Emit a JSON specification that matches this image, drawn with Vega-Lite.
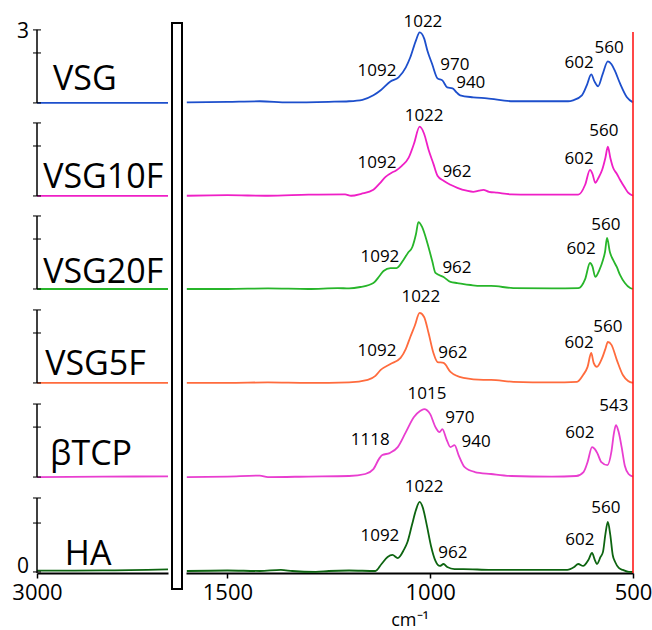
{
  "$schema": "https://vega.github.io/schema/vega-lite/v6.json",
  "padding": {"left": 11, "top": 13, "right": 0, "bottom": 4},
  "config": {"view": {"stroke": null}, "axis": {"grid": false}, "concat": {"spacing": 4}},
  "datasets": {
    "specL": [
      {"s": "VSG", "wn": 3000, "a": 2.607}, {"s": "VSG", "wn": 2840, "a": 2.607}, {"s": "VSG", "wn": 2680, "a": 2.607},
      {"s": "VSG10F", "wn": 3000, "a": 2.091}, {"s": "VSG10F", "wn": 2840, "a": 2.091}, {"s": "VSG10F", "wn": 2680, "a": 2.091},
      {"s": "VSG20F", "wn": 3000, "a": 1.575}, {"s": "VSG20F", "wn": 2840, "a": 1.575}, {"s": "VSG20F", "wn": 2680, "a": 1.575},
      {"s": "VSG5F", "wn": 3000, "a": 1.054}, {"s": "VSG5F", "wn": 2840, "a": 1.054}, {"s": "VSG5F", "wn": 2680, "a": 1.054},
      {"s": "βTCP", "wn": 3000, "a": 0.532}, {"s": "βTCP", "wn": 2840, "a": 0.534}, {"s": "βTCP", "wn": 2680, "a": 0.536},
      {"s": "HA", "wn": 3000, "a": 0.013}, {"s": "HA", "wn": 2840, "a": 0.014}, {"s": "HA", "wn": 2680, "a": 0.02}
    ],
    "specR": [
      {"s": "VSG", "wn": 1600, "a": 2.610}, {"s": "VSG", "wn": 1500, "a": 2.613}, {"s": "VSG", "wn": 1420, "a": 2.616}, {"s": "VSG", "wn": 1350, "a": 2.610},
      {"s": "VSG", "wn": 1250, "a": 2.613}, {"s": "VSG", "wn": 1200, "a": 2.616}, {"s": "VSG", "wn": 1167, "a": 2.624}, {"s": "VSG", "wn": 1140, "a": 2.649},
      {"s": "VSG", "wn": 1122, "a": 2.677}, {"s": "VSG", "wn": 1098, "a": 2.726}, {"s": "VSG", "wn": 1078, "a": 2.749}, {"s": "VSG", "wn": 1060, "a": 2.804},
      {"s": "VSG", "wn": 1049, "a": 2.860}, {"s": "VSG", "wn": 1035, "a": 2.954}, {"s": "VSG", "wn": 1026, "a": 2.998}, {"s": "VSG", "wn": 1015, "a": 2.965},
      {"s": "VSG", "wn": 1007, "a": 2.898}, {"s": "VSG", "wn": 995, "a": 2.821}, {"s": "VSG", "wn": 982, "a": 2.743}, {"s": "VSG", "wn": 970, "a": 2.732},
      {"s": "VSG", "wn": 958, "a": 2.693}, {"s": "VSG", "wn": 945, "a": 2.688}, {"s": "VSG", "wn": 935, "a": 2.665}, {"s": "VSG", "wn": 926, "a": 2.649},
      {"s": "VSG", "wn": 894, "a": 2.638}, {"s": "VSG", "wn": 860, "a": 2.632}, {"s": "VSG", "wn": 795, "a": 2.616}, {"s": "VSG", "wn": 720, "a": 2.616},
      {"s": "VSG", "wn": 660, "a": 2.616}, {"s": "VSG", "wn": 648, "a": 2.621}, {"s": "VSG", "wn": 626, "a": 2.649}, {"s": "VSG", "wn": 613, "a": 2.710},
      {"s": "VSG", "wn": 603, "a": 2.765}, {"s": "VSG", "wn": 595, "a": 2.726}, {"s": "VSG", "wn": 586, "a": 2.699}, {"s": "VSG", "wn": 575, "a": 2.765},
      {"s": "VSG", "wn": 562, "a": 2.837}, {"s": "VSG", "wn": 553, "a": 2.821}, {"s": "VSG", "wn": 545, "a": 2.787}, {"s": "VSG", "wn": 532, "a": 2.715},
      {"s": "VSG", "wn": 515, "a": 2.638}, {"s": "VSG", "wn": 500, "a": 2.610},

      {"s": "VSG10F", "wn": 1600, "a": 2.092}, {"s": "VSG10F", "wn": 1500, "a": 2.095}, {"s": "VSG10F", "wn": 1400, "a": 2.092}, {"s": "VSG10F", "wn": 1300, "a": 2.098},
      {"s": "VSG10F", "wn": 1210, "a": 2.100}, {"s": "VSG10F", "wn": 1195, "a": 2.092}, {"s": "VSG10F", "wn": 1170, "a": 2.103}, {"s": "VSG10F", "wn": 1140, "a": 2.125},
      {"s": "VSG10F", "wn": 1125, "a": 2.159}, {"s": "VSG10F", "wn": 1110, "a": 2.197}, {"s": "VSG10F", "wn": 1095, "a": 2.220}, {"s": "VSG10F", "wn": 1085, "a": 2.231},
      {"s": "VSG10F", "wn": 1070, "a": 2.258}, {"s": "VSG10F", "wn": 1053, "a": 2.303}, {"s": "VSG10F", "wn": 1040, "a": 2.380}, {"s": "VSG10F", "wn": 1026, "a": 2.475},
      {"s": "VSG10F", "wn": 1015, "a": 2.436}, {"s": "VSG10F", "wn": 1004, "a": 2.347}, {"s": "VSG10F", "wn": 992, "a": 2.269}, {"s": "VSG10F", "wn": 982, "a": 2.203},
      {"s": "VSG10F", "wn": 967, "a": 2.175}, {"s": "VSG10F", "wn": 950, "a": 2.153}, {"s": "VSG10F", "wn": 933, "a": 2.136}, {"s": "VSG10F", "wn": 910, "a": 2.120},
      {"s": "VSG10F", "wn": 894, "a": 2.114}, {"s": "VSG10F", "wn": 880, "a": 2.120}, {"s": "VSG10F", "wn": 869, "a": 2.125}, {"s": "VSG10F", "wn": 855, "a": 2.114},
      {"s": "VSG10F", "wn": 835, "a": 2.109}, {"s": "VSG10F", "wn": 800, "a": 2.100}, {"s": "VSG10F", "wn": 753, "a": 2.098}, {"s": "VSG10F", "wn": 700, "a": 2.098},
      {"s": "VSG10F", "wn": 650, "a": 2.098}, {"s": "VSG10F", "wn": 635, "a": 2.098}, {"s": "VSG10F", "wn": 618, "a": 2.153}, {"s": "VSG10F", "wn": 606, "a": 2.236},
      {"s": "VSG10F", "wn": 600, "a": 2.214}, {"s": "VSG10F", "wn": 593, "a": 2.164}, {"s": "VSG10F", "wn": 585, "a": 2.192}, {"s": "VSG10F", "wn": 576, "a": 2.236},
      {"s": "VSG10F", "wn": 568, "a": 2.303}, {"s": "VSG10F", "wn": 562, "a": 2.364}, {"s": "VSG10F", "wn": 556, "a": 2.303}, {"s": "VSG10F", "wn": 549, "a": 2.247},
      {"s": "VSG10F", "wn": 540, "a": 2.214}, {"s": "VSG10F", "wn": 532, "a": 2.181}, {"s": "VSG10F", "wn": 520, "a": 2.136}, {"s": "VSG10F", "wn": 512, "a": 2.109},
      {"s": "VSG10F", "wn": 500, "a": 2.092},

      {"s": "VSG20F", "wn": 1600, "a": 1.575}, {"s": "VSG20F", "wn": 1500, "a": 1.575}, {"s": "VSG20F", "wn": 1400, "a": 1.578}, {"s": "VSG20F", "wn": 1300, "a": 1.575},
      {"s": "VSG20F", "wn": 1228, "a": 1.580}, {"s": "VSG20F", "wn": 1200, "a": 1.578}, {"s": "VSG20F", "wn": 1172, "a": 1.586}, {"s": "VSG20F", "wn": 1140, "a": 1.608},
      {"s": "VSG20F", "wn": 1125, "a": 1.647}, {"s": "VSG20F", "wn": 1115, "a": 1.675}, {"s": "VSG20F", "wn": 1098, "a": 1.691}, {"s": "VSG20F", "wn": 1083, "a": 1.691},
      {"s": "VSG20F", "wn": 1066, "a": 1.736}, {"s": "VSG20F", "wn": 1055, "a": 1.775}, {"s": "VSG20F", "wn": 1044, "a": 1.808}, {"s": "VSG20F", "wn": 1035, "a": 1.880},
      {"s": "VSG20F", "wn": 1029, "a": 1.946}, {"s": "VSG20F", "wn": 1020, "a": 1.919}, {"s": "VSG20F", "wn": 1007, "a": 1.830}, {"s": "VSG20F", "wn": 995, "a": 1.730},
      {"s": "VSG20F", "wn": 987, "a": 1.664}, {"s": "VSG20F", "wn": 967, "a": 1.642}, {"s": "VSG20F", "wn": 950, "a": 1.614}, {"s": "VSG20F", "wn": 933, "a": 1.608},
      {"s": "VSG20F", "wn": 900, "a": 1.597}, {"s": "VSG20F", "wn": 876, "a": 1.592}, {"s": "VSG20F", "wn": 850, "a": 1.592}, {"s": "VSG20F", "wn": 795, "a": 1.580},
      {"s": "VSG20F", "wn": 700, "a": 1.578}, {"s": "VSG20F", "wn": 635, "a": 1.580}, {"s": "VSG20F", "wn": 618, "a": 1.630}, {"s": "VSG20F", "wn": 606, "a": 1.719},
      {"s": "VSG20F", "wn": 600, "a": 1.700}, {"s": "VSG20F", "wn": 593, "a": 1.642}, {"s": "VSG20F", "wn": 583, "a": 1.680}, {"s": "VSG20F", "wn": 574, "a": 1.736},
      {"s": "VSG20F", "wn": 569, "a": 1.780}, {"s": "VSG20F", "wn": 564, "a": 1.858}, {"s": "VSG20F", "wn": 557, "a": 1.780}, {"s": "VSG20F", "wn": 549, "a": 1.736},
      {"s": "VSG20F", "wn": 540, "a": 1.697}, {"s": "VSG20F", "wn": 532, "a": 1.653}, {"s": "VSG20F", "wn": 520, "a": 1.608}, {"s": "VSG20F", "wn": 507, "a": 1.580},
      {"s": "VSG20F", "wn": 500, "a": 1.575},

      {"s": "VSG5F", "wn": 1600, "a": 1.054}, {"s": "VSG5F", "wn": 1500, "a": 1.054}, {"s": "VSG5F", "wn": 1400, "a": 1.057}, {"s": "VSG5F", "wn": 1300, "a": 1.054},
      {"s": "VSG5F", "wn": 1200, "a": 1.057}, {"s": "VSG5F", "wn": 1154, "a": 1.071}, {"s": "VSG5F", "wn": 1135, "a": 1.093}, {"s": "VSG5F", "wn": 1122, "a": 1.126},
      {"s": "VSG5F", "wn": 1098, "a": 1.159}, {"s": "VSG5F", "wn": 1073, "a": 1.193}, {"s": "VSG5F", "wn": 1060, "a": 1.243}, {"s": "VSG5F", "wn": 1049, "a": 1.309},
      {"s": "VSG5F", "wn": 1038, "a": 1.371}, {"s": "VSG5F", "wn": 1026, "a": 1.442}, {"s": "VSG5F", "wn": 1015, "a": 1.420}, {"s": "VSG5F", "wn": 1004, "a": 1.331},
      {"s": "VSG5F", "wn": 992, "a": 1.220}, {"s": "VSG5F", "wn": 982, "a": 1.170}, {"s": "VSG5F", "wn": 967, "a": 1.165}, {"s": "VSG5F", "wn": 950, "a": 1.115},
      {"s": "VSG5F", "wn": 918, "a": 1.082}, {"s": "VSG5F", "wn": 869, "a": 1.071}, {"s": "VSG5F", "wn": 850, "a": 1.071}, {"s": "VSG5F", "wn": 795, "a": 1.060},
      {"s": "VSG5F", "wn": 700, "a": 1.057}, {"s": "VSG5F", "wn": 638, "a": 1.060}, {"s": "VSG5F", "wn": 623, "a": 1.098}, {"s": "VSG5F", "wn": 612, "a": 1.143},
      {"s": "VSG5F", "wn": 603, "a": 1.220}, {"s": "VSG5F", "wn": 597, "a": 1.165}, {"s": "VSG5F", "wn": 589, "a": 1.143}, {"s": "VSG5F", "wn": 577, "a": 1.187},
      {"s": "VSG5F", "wn": 568, "a": 1.243}, {"s": "VSG5F", "wn": 562, "a": 1.281}, {"s": "VSG5F", "wn": 553, "a": 1.265}, {"s": "VSG5F", "wn": 540, "a": 1.182},
      {"s": "VSG5F", "wn": 525, "a": 1.098}, {"s": "VSG5F", "wn": 512, "a": 1.065}, {"s": "VSG5F", "wn": 500, "a": 1.054},

      {"s": "βTCP", "wn": 1600, "a": 0.532}, {"s": "βTCP", "wn": 1500, "a": 0.535}, {"s": "βTCP", "wn": 1420, "a": 0.540}, {"s": "βTCP", "wn": 1400, "a": 0.532},
      {"s": "βTCP", "wn": 1300, "a": 0.535}, {"s": "βTCP", "wn": 1200, "a": 0.538}, {"s": "βTCP", "wn": 1160, "a": 0.549}, {"s": "βTCP", "wn": 1140, "a": 0.576},
      {"s": "βTCP", "wn": 1125, "a": 0.637}, {"s": "βTCP", "wn": 1118, "a": 0.654}, {"s": "βTCP", "wn": 1100, "a": 0.665}, {"s": "βTCP", "wn": 1080, "a": 0.698},
      {"s": "βTCP", "wn": 1060, "a": 0.781}, {"s": "βTCP", "wn": 1040, "a": 0.865}, {"s": "βTCP", "wn": 1025, "a": 0.898}, {"s": "βTCP", "wn": 1015, "a": 0.909},
      {"s": "βTCP", "wn": 1000, "a": 0.881}, {"s": "βTCP", "wn": 987, "a": 0.809}, {"s": "βTCP", "wn": 977, "a": 0.781}, {"s": "βTCP", "wn": 970, "a": 0.798},
      {"s": "βTCP", "wn": 960, "a": 0.743}, {"s": "βTCP", "wn": 950, "a": 0.698}, {"s": "βTCP", "wn": 940, "a": 0.709}, {"s": "βTCP", "wn": 930, "a": 0.654},
      {"s": "βTCP", "wn": 915, "a": 0.587}, {"s": "βTCP", "wn": 890, "a": 0.560}, {"s": "βTCP", "wn": 850, "a": 0.549}, {"s": "βTCP", "wn": 800, "a": 0.538},
      {"s": "βTCP", "wn": 700, "a": 0.535}, {"s": "βTCP", "wn": 640, "a": 0.538}, {"s": "βTCP", "wn": 622, "a": 0.560}, {"s": "βTCP", "wn": 612, "a": 0.615},
      {"s": "βTCP", "wn": 601, "a": 0.698}, {"s": "βTCP", "wn": 594, "a": 0.687}, {"s": "βTCP", "wn": 588, "a": 0.665}, {"s": "βTCP", "wn": 578, "a": 0.615},
      {"s": "βTCP", "wn": 563, "a": 0.598}, {"s": "βTCP", "wn": 553, "a": 0.676}, {"s": "βTCP", "wn": 547, "a": 0.776}, {"s": "βTCP", "wn": 542, "a": 0.820},
      {"s": "βTCP", "wn": 536, "a": 0.787}, {"s": "βTCP", "wn": 528, "a": 0.698}, {"s": "βTCP", "wn": 520, "a": 0.593}, {"s": "βTCP", "wn": 511, "a": 0.549},
      {"s": "βTCP", "wn": 500, "a": 0.535},

      {"s": "HA", "wn": 1600, "a": 0.011}, {"s": "HA", "wn": 1500, "a": 0.014}, {"s": "HA", "wn": 1420, "a": 0.011}, {"s": "HA", "wn": 1368, "a": 0.017},
      {"s": "HA", "wn": 1340, "a": 0.011}, {"s": "HA", "wn": 1282, "a": 0.006}, {"s": "HA", "wn": 1250, "a": 0.011}, {"s": "HA", "wn": 1200, "a": 0.014},
      {"s": "HA", "wn": 1135, "a": 0.011}, {"s": "HA", "wn": 1120, "a": 0.050}, {"s": "HA", "wn": 1105, "a": 0.089}, {"s": "HA", "wn": 1093, "a": 0.100},
      {"s": "HA", "wn": 1080, "a": 0.083}, {"s": "HA", "wn": 1065, "a": 0.128}, {"s": "HA", "wn": 1056, "a": 0.172}, {"s": "HA", "wn": 1045, "a": 0.266},
      {"s": "HA", "wn": 1035, "a": 0.350}, {"s": "HA", "wn": 1026, "a": 0.394}, {"s": "HA", "wn": 1018, "a": 0.361}, {"s": "HA", "wn": 1008, "a": 0.261},
      {"s": "HA", "wn": 998, "a": 0.150}, {"s": "HA", "wn": 987, "a": 0.067}, {"s": "HA", "wn": 976, "a": 0.039}, {"s": "HA", "wn": 967, "a": 0.050},
      {"s": "HA", "wn": 958, "a": 0.033}, {"s": "HA", "wn": 940, "a": 0.022}, {"s": "HA", "wn": 918, "a": 0.022}, {"s": "HA", "wn": 850, "a": 0.017},
      {"s": "HA", "wn": 750, "a": 0.017}, {"s": "HA", "wn": 662, "a": 0.017}, {"s": "HA", "wn": 645, "a": 0.033}, {"s": "HA", "wn": 635, "a": 0.050},
      {"s": "HA", "wn": 623, "a": 0.039}, {"s": "HA", "wn": 610, "a": 0.072}, {"s": "HA", "wn": 601, "a": 0.111}, {"s": "HA", "wn": 594, "a": 0.072},
      {"s": "HA", "wn": 589, "a": 0.050}, {"s": "HA", "wn": 580, "a": 0.089}, {"s": "HA", "wn": 574, "a": 0.117}, {"s": "HA", "wn": 568, "a": 0.216},
      {"s": "HA", "wn": 562, "a": 0.283}, {"s": "HA", "wn": 556, "a": 0.211}, {"s": "HA", "wn": 550, "a": 0.100}, {"s": "HA", "wn": 544, "a": 0.061},
      {"s": "HA", "wn": 535, "a": 0.028}, {"s": "HA", "wn": 525, "a": 0.017}, {"s": "HA", "wn": 510, "a": 0.006}, {"s": "HA", "wn": 500, "a": 0.006}
    ],
    "peaks": [
      {"t": "1022", "wn": 1018, "a": 3.055}, {"t": "1092", "wn": 1131, "a": 2.784}, {"t": "970", "wn": 939, "a": 2.817}, {"t": "940", "wn": 900, "a": 2.715},
      {"t": "602", "wn": 633, "a": 2.828}, {"t": "560", "wn": 559, "a": 2.911},
      {"t": "1022", "wn": 1015, "a": 2.534}, {"t": "1092", "wn": 1131, "a": 2.274}, {"t": "962", "wn": 934, "a": 2.224},
      {"t": "602", "wn": 633, "a": 2.296}, {"t": "560", "wn": 572, "a": 2.451},
      {"t": "1092", "wn": 1124, "a": 1.752}, {"t": "962", "wn": 934, "a": 1.691}, {"t": "602", "wn": 628, "a": 1.797}, {"t": "560", "wn": 567, "a": 1.930},
      {"t": "1022", "wn": 1023, "a": 1.531}, {"t": "1092", "wn": 1131, "a": 1.231}, {"t": "962", "wn": 944, "a": 1.220},
      {"t": "602", "wn": 633, "a": 1.275}, {"t": "560", "wn": 562, "a": 1.364},
      {"t": "1015", "wn": 1008, "a": 0.993}, {"t": "1118", "wn": 1148, "a": 0.738}, {"t": "970", "wn": 927, "a": 0.860}, {"t": "940", "wn": 887, "a": 0.726},
      {"t": "602", "wn": 631, "a": 0.776}, {"t": "543", "wn": 547, "a": 0.926},
      {"t": "1022", "wn": 1015, "a": 0.477}, {"t": "1092", "wn": 1124, "a": 0.205}, {"t": "962", "wn": 944, "a": 0.111},
      {"t": "602", "wn": 631, "a": 0.183}, {"t": "560", "wn": 567, "a": 0.360}
    ],
    "names": [
      {"t": "VSG", "wn": 2961, "a": 2.678}, {"t": "VSG10F", "wn": 2985, "a": 2.135}, {"t": "VSG20F", "wn": 2985, "a": 1.608},
      {"t": "VSG5F", "wn": 2980, "a": 1.098}, {"t": "βTCP", "wn": 2968, "a": 0.599}, {"t": "HA", "wn": 2932, "a": 0.044}
    ],
    "axseg": [
      {"wn": 3000, "base": 2.607, "top": 3.012}, {"wn": 3000, "base": 2.091, "top": 2.496}, {"wn": 3000, "base": 1.575, "top": 1.980},
      {"wn": 3000, "base": 1.054, "top": 1.459}, {"wn": 3000, "base": 0.532, "top": 0.937}, {"wn": 3000, "base": 0.0, "top": 0.416}
    ],
    "axtick": [
      {"wn": 3000, "a": 2.607}, {"wn": 3000, "a": 2.884}, {"wn": 3000, "a": 3.012},
      {"wn": 3000, "a": 2.091}, {"wn": 3000, "a": 2.368}, {"wn": 3000, "a": 2.496},
      {"wn": 3000, "a": 1.575}, {"wn": 3000, "a": 1.852}, {"wn": 3000, "a": 1.980},
      {"wn": 3000, "a": 1.054}, {"wn": 3000, "a": 1.331}, {"wn": 3000, "a": 1.459},
      {"wn": 3000, "a": 0.532}, {"wn": 3000, "a": 0.809}, {"wn": 3000, "a": 0.937},
      {"wn": 3000, "a": 0.006}, {"wn": 3000, "a": 0.277}, {"wn": 3000, "a": 0.416}
    ],
    "axlab": [{"t": "3", "wn": 3000, "a": 3.0}, {"t": "0", "wn": 3000, "a": 0.035}],
    "box": [{"x0": 0, "x1": 1, "y0": 0, "y1": 1}],
    "red": [{"wn": 500, "a0": 0, "a1": 3.0}]
  },
  "hconcat": [
    {
      "width": 131,
      "height": 550,
      "layer": [
        {
          "data": {"name": "specL"},
          "mark": {"type": "line", "strokeWidth": 1.8, "interpolate": "monotone"},
          "encoding": {
            "x": {"field": "wn", "type": "quantitative", "scale": {"domain": [3000, 2680], "nice": false, "zero": false},
                  "axis": {"values": [3000], "format": "d", "title": null, "labelFont": "Open Sans", "labelFontSize": 22, "labelColor": "black",
                           "domainColor": "black", "domainWidth": 2, "tickColor": "black", "tickWidth": 1.5, "tickSize": 5, "labelPadding": 4, "labelFlush": false, "labelBound": false}},
            "y": {"field": "a", "type": "quantitative", "scale": {"domain": [0, 3.05], "nice": false, "zero": false}, "axis": null},
            "color": {"field": "s", "type": "nominal", "legend": null,
                      "scale": {"domain": ["VSG", "VSG10F", "VSG20F", "VSG5F", "βTCP", "HA"], "range": ["#1d4fcc", "#ef1fc6", "#27b52a", "#ff6b3d", "#e93ed0", "#0d6410"]}}
          }
        },
        {
          "data": {"name": "axseg"},
          "mark": {"type": "rule", "color": "black", "strokeWidth": 1.5},
          "encoding": {"x": {"field": "wn", "type": "quantitative"}, "y": {"field": "base", "type": "quantitative"}, "y2": {"field": "top"}}
        },
        {
          "data": {"name": "axtick"},
          "mark": {"type": "tick", "orient": "horizontal", "color": "black", "size": 8, "thickness": 1.5},
          "encoding": {"x": {"field": "wn", "type": "quantitative"}, "y": {"field": "a", "type": "quantitative"}}
        },
        {
          "data": {"name": "axlab"},
          "mark": {"type": "text", "font": "Open Sans", "fontSize": 21, "align": "right", "baseline": "middle", "dx": -8, "color": "black"},
          "encoding": {"x": {"field": "wn", "type": "quantitative"}, "y": {"field": "a", "type": "quantitative"}, "text": {"field": "t"}}
        },
        {
          "data": {"name": "names"},
          "mark": {"type": "text", "font": "Open Sans", "fontSize": 34, "align": "left", "baseline": "alphabetic", "color": "black"},
          "encoding": {"x": {"field": "wn", "type": "quantitative"}, "y": {"field": "a", "type": "quantitative"}, "text": {"field": "t"}}
        }
      ]
    },
    {
      "width": 10,
      "height": 566,
      "data": {"name": "box"},
      "mark": {"type": "rect", "fill": "white", "stroke": "black", "strokeWidth": 2},
      "encoding": {
        "x": {"field": "x0", "type": "quantitative", "scale": {"domain": [0, 1], "nice": false}, "axis": null},
        "x2": {"field": "x1"},
        "y": {"field": "y0", "type": "quantitative", "scale": {"domain": [0, 1], "nice": false}, "axis": null},
        "y2": {"field": "y1"}
      }
    },
    {
      "width": 447,
      "height": 550,
      "layer": [
        {
          "data": {"name": "specR"},
          "mark": {"type": "line", "strokeWidth": 1.8, "interpolate": "monotone"},
          "encoding": {
            "x": {"field": "wn", "type": "quantitative", "scale": {"domain": [1602, 500], "nice": false, "zero": false},
                  "axis": {"values": [1500, 1000, 500], "format": "d", "title": "cm⁻¹", "titleFont": "Open Sans", "titleFontSize": 18, "titleFontWeight": "normal", "titleColor": "black", "titlePadding": 8,
                           "labelFont": "Open Sans", "labelFontSize": 22, "labelColor": "black", "domainColor": "black", "domainWidth": 2,
                           "tickColor": "black", "tickWidth": 1.5, "tickSize": 5, "labelPadding": 4, "labelFlush": false, "labelBound": false, "labelOverlap": false}},
            "y": {"field": "a", "type": "quantitative", "scale": {"domain": [0, 3.05], "nice": false, "zero": false}, "axis": null},
            "color": {"field": "s", "type": "nominal", "legend": null,
                      "scale": {"domain": ["VSG", "VSG10F", "VSG20F", "VSG5F", "βTCP", "HA"], "range": ["#1d4fcc", "#ef1fc6", "#27b52a", "#ff6b3d", "#e93ed0", "#0d6410"]}}
          }
        },
        {
          "data": {"name": "red"},
          "mark": {"type": "rule", "color": "#ff1a1a", "strokeWidth": 1.6},
          "encoding": {"x": {"field": "wn", "type": "quantitative"}, "y": {"field": "a0", "type": "quantitative"}, "y2": {"field": "a1"}}
        },
        {
          "data": {"name": "peaks"},
          "mark": {"type": "text", "font": "Open Sans", "fontSize": 17, "align": "center", "baseline": "middle", "color": "black"},
          "encoding": {"x": {"field": "wn", "type": "quantitative"}, "y": {"field": "a", "type": "quantitative"}, "text": {"field": "t"}}
        }
      ]
    }
  ],
  "bounds": "flush"
}
